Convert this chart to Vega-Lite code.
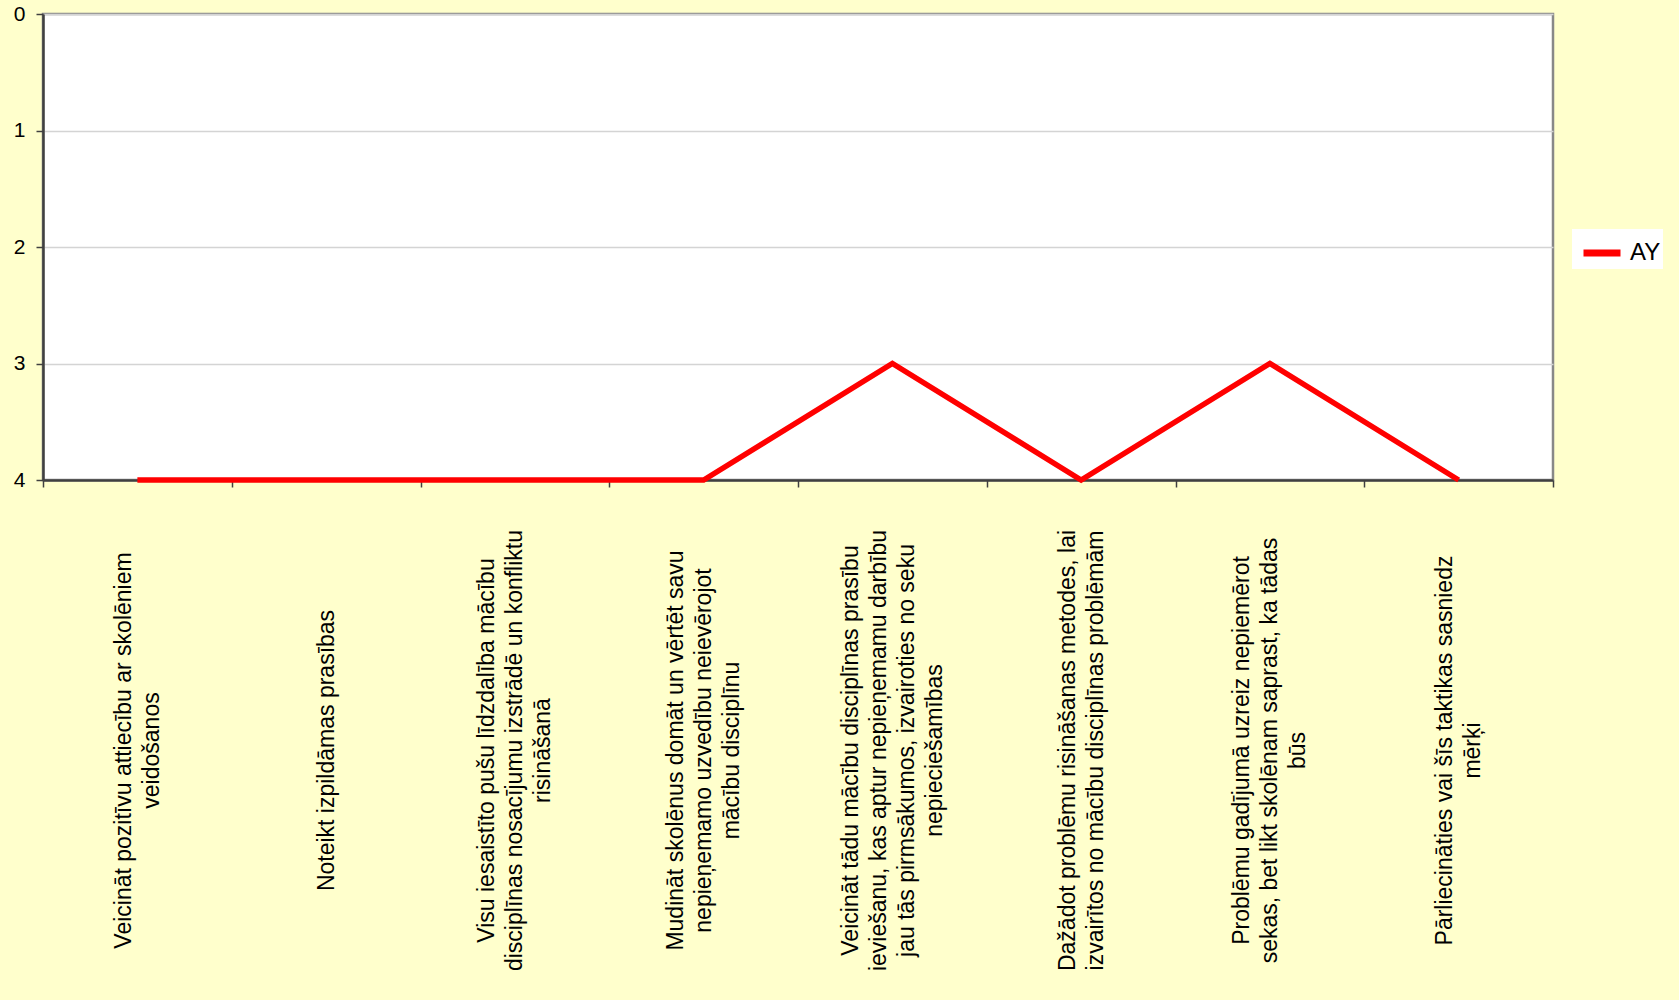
{
  "$schema": "https://vega.github.io/schema/vega-lite/v6.json",
  "autosize": "none",
  "width": 1510,
  "height": 466,
  "padding": {"left": 43, "top": 14, "right": 126, "bottom": 520},
  "background": "#FFFFCC",
  "config": {
    "view": {"fill": "#FFFFFF", "stroke": "#888888", "strokeWidth": 2.5},
    "font": "Liberation Sans"
  },
  "data": {
    "values": [
      {"kategorija": "Veicināt pozitīvu attiecību ar skolēniem|veidošanos", "vertiba": 4, "serija": "AY", "kartiba": 1},
      {"kategorija": "Noteikt izpildāmas prasības", "vertiba": 4, "serija": "AY", "kartiba": 2},
      {"kategorija": "Visu iesaistīto pušu līdzdalība mācību|disciplīnas nosacījumu izstrādē un konfliktu|risināšanā", "vertiba": 4, "serija": "AY", "kartiba": 3},
      {"kategorija": "Mudināt skolēnus domāt un vērtēt savu|nepieņemamo uzvedību neievērojot|mācību disciplīnu", "vertiba": 4, "serija": "AY", "kartiba": 4},
      {"kategorija": "Veicināt tādu mācību disciplīnas prasību|ieviešanu, kas aptur nepieņemamu darbību|jau tās pirmsākumos, izvairoties no seku|nepieciešamības", "vertiba": 3, "serija": "AY", "kartiba": 5},
      {"kategorija": "Dažādot problēmu risināšanas metodes, lai|izvairītos no mācību disciplīnas problēmām", "vertiba": 4, "serija": "AY", "kartiba": 6},
      {"kategorija": "Problēmu gadījumā uzreiz nepiemērot|sekas, bet likt skolēnam saprast, ka tādas|būs", "vertiba": 3, "serija": "AY", "kartiba": 7},
      {"kategorija": "Pārliecināties vai šīs taktikas sasniedz|mērķi", "vertiba": 4, "serija": "AY", "kartiba": 8}
    ]
  },
  "mark": {"type": "line", "strokeWidth": 5.5},
  "encoding": {
    "x": {
      "field": "kategorija",
      "type": "nominal",
      "sort": {"field": "kartiba"},
      "scale": {"type": "band", "paddingInner": 0, "paddingOuter": 0},
      "axis": {
        "title": null,
        "labelExpr": "length(split(datum.label, '|')) === 1 ? pad(datum.label, length(datum.label) + 25, '\u00a0', 'left') : split(datum.label, '|')",
        "labelAngle": -90,
        "labelAlign": "center",
        "labelBaseline": "middle",
        "labelFont": "Liberation Sans",
        "labelFontSize": 23,
        "labelLineHeight": 28,
        "labelColor": "#000000",
        "labelLimit": 0,
        "labelOverlap": false,
        "labelPadding": 263,
        "labelOffset": {
          "condition": [
            {"test": "length(split(datum.value, '|')) === 4", "value": -42},
            {"test": "length(split(datum.value, '|')) === 3", "value": -28},
            {"test": "length(split(datum.value, '|')) === 2", "value": -14}
          ],
          "value": 0
        },
        "tickBand": "extent",
        "tickSize": 7,
        "tickColor": "#404040",
        "tickWidth": 1.5,
        "domainColor": "#404040",
        "domainWidth": 2.5,
        "grid": false
      }
    },
    "y": {
      "field": "vertiba",
      "type": "quantitative",
      "scale": {"domain": [0, 4], "reverse": true, "nice": false},
      "axis": {
        "title": null,
        "values": [0, 1, 2, 3, 4],
        "labelFont": "Liberation Sans",
        "labelFontSize": 21,
        "labelColor": "#000000",
        "labelPadding": 11,
        "tickSize": 7,
        "tickColor": "#404040",
        "tickWidth": 1.5,
        "domainColor": "#404040",
        "domainWidth": 2.5,
        "grid": true,
        "gridColor": "#D4D4D4",
        "gridWidth": 1.5
      }
    },
    "color": {
      "field": "serija",
      "type": "nominal",
      "scale": {"range": ["#FF0000"]},
      "legend": {
        "title": null,
        "orient": "none",
        "legendX": 1529,
        "legendY": 215,
        "fillColor": "#FFFFFF",
        "padding": 2,
        "symbolOffset": 6,
        "symbolType": "stroke",
        "symbolSize": 1369,
        "symbolStrokeWidth": 7,
        "labelFont": "Liberation Sans",
        "labelFontSize": 24,
        "labelColor": "#000000",
        "labelOffset": 6
      }
    }
  }
}
